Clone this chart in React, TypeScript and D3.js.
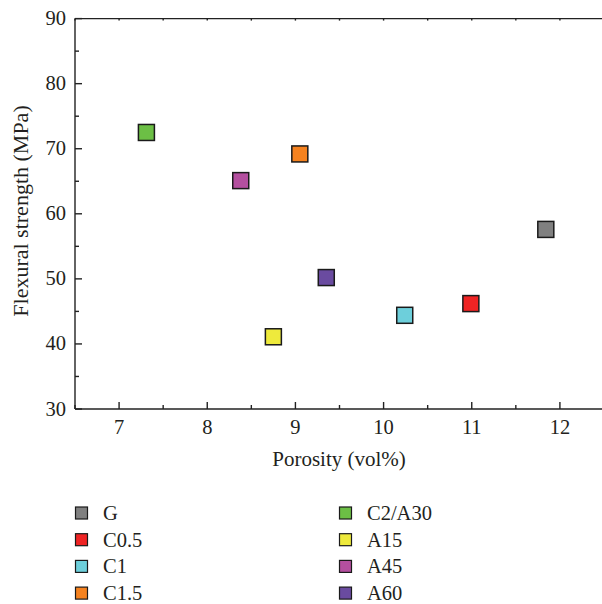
import React, { useEffect, useRef } from "react";
import * as d3 from "d3";

// sample names, porosity (vol%) and flexural strength (MPa)
const samples = ["G", "C0.5", "C1", "C1.5", "C2/A30", "A15", "A45", "A60"];
const porosity = [11.84, 10.99, 10.24, 9.05, 7.31, 8.75, 8.38, 9.35];
const strength = [57.6, 46.2, 44.4, 69.2, 72.5, 41.1, 65.1, 50.2];
const colors = ["#808080", "#ef2424", "#6dcfdb", "#f5821f", "#6cbf45", "#eeea3c", "#b44f9f", "#6a4ba0"];

const xTicks = [7, 8, 9, 10, 11, 12];
const yTicks = [30, 40, 50, 60, 70, 80, 90];

const FONT = "'Liberation Serif', 'DejaVu Serif', serif";

export default function App() {
	const ref = useRef<SVGSVGElement>(null);

	useEffect(() => {
		const svg = d3.select(ref.current);
		svg.selectAll("*").remove();

		const left = 75;
		const right = 604;
		const top = 18.6;
		const bottom = 409;

		const x = d3.scaleLinear().domain([6.5, 12.5]).range([left, right]);
		const y = d3.scaleLinear().domain([30, 90]).range([bottom, top]);

		const axisColor = "#222";
		const textColor = "#231f20";

		// minor ticks
		const xMinor = d3.range(6.5, 12.51, 0.5).filter((v) => !xTicks.includes(v));
		const yMinor = d3.range(35, 90, 10);

		const g = svg.append("g").attr("stroke", axisColor).attr("stroke-width", 1.4);

		// bottom axis
		g.append("line").attr("x1", left).attr("x2", right).attr("y1", bottom).attr("y2", bottom);
		g.selectAll(".xt")
			.data(xTicks)
			.join("line")
			.attr("x1", (d) => x(d))
			.attr("x2", (d) => x(d))
			.attr("y1", bottom)
			.attr("y2", bottom - 7);
		g.selectAll(".xm")
			.data(xMinor)
			.join("line")
			.attr("x1", (d) => x(d))
			.attr("x2", (d) => x(d))
			.attr("y1", bottom)
			.attr("y2", bottom - 4);

		// top axis
		g.append("line").attr("x1", left).attr("x2", right).attr("y1", top).attr("y2", top);
		g.selectAll(".tt")
			.data(d3.range(6.5, 12.51, 0.5))
			.join("line")
			.attr("x1", (d) => x(d))
			.attr("x2", (d) => x(d))
			.attr("y1", top)
			.attr("y2", top + 2);

		// left axis
		g.append("line").attr("x1", left).attr("x2", left).attr("y1", top).attr("y2", bottom);
		g.selectAll(".yt")
			.data(yTicks)
			.join("line")
			.attr("x1", left)
			.attr("x2", left + 7)
			.attr("y1", (d) => y(d))
			.attr("y2", (d) => y(d));
		g.selectAll(".ym")
			.data(yMinor)
			.join("line")
			.attr("x1", left)
			.attr("x2", left + 4)
			.attr("y1", (d) => y(d))
			.attr("y2", (d) => y(d));

		// tick labels
		svg.selectAll(".xl")
			.data(xTicks)
			.join("text")
			.attr("x", (d) => x(d))
			.attr("y", 434)
			.attr("text-anchor", "middle")
			.attr("font-family", FONT)
			.attr("font-size", 20.5)
			.attr("fill", textColor)
			.text((d) => d);

		svg.selectAll(".yl")
			.data(yTicks)
			.join("text")
			.attr("x", 66)
			.attr("y", (d) => y(d) + 6.5)
			.attr("text-anchor", "end")
			.attr("font-family", FONT)
			.attr("font-size", 20.5)
			.attr("fill", textColor)
			.text((d) => d);

		// axis titles
		svg.append("text")
			.attr("x", 339)
			.attr("y", 466)
			.attr("text-anchor", "middle")
			.attr("font-family", FONT)
			.attr("font-size", 21)
			.attr("fill", textColor)
			.text("Porosity (vol%)");

		svg.append("text")
			.attr("transform", `translate(27.5,211) rotate(-90)`)
			.attr("text-anchor", "middle")
			.attr("font-family", FONT)
			.attr("font-size", 22)
			.attr("fill", textColor)
			.text("Flexural strength (MPa)");

		// points
		const s = 16;
		svg.selectAll(".pt")
			.data(samples)
			.join("rect")
			.attr("x", (d, i) => x(porosity[i]) - s / 2)
			.attr("y", (d, i) => y(strength[i]) - s / 2)
			.attr("width", s)
			.attr("height", s)
			.attr("fill", (d, i) => colors[i])
			.attr("stroke", "#1a1a1a")
			.attr("stroke-width", 1.5);

		// legend, two columns of four
		const legend = svg.append("g");
		const rows = legend
			.selectAll("g")
			.data(samples)
			.join("g")
			.attr("transform", (d, i) => `translate(${i < 4 ? 75 : 339},${513 + (i % 4) * 26.7})`);
		rows.append("rect")
			.attr("x", 0.5)
			.attr("y", -6)
			.attr("width", 12)
			.attr("height", 12)
			.attr("fill", (d, i) => colors[i])
			.attr("stroke", "#1a1a1a")
			.attr("stroke-width", 1.2);
		rows.append("text")
			.attr("x", 28)
			.attr("y", 6.8)
			.attr("font-family", FONT)
			.attr("font-size", 20.5)
			.attr("fill", textColor)
			.text((d) => d);
	}, []);

	return (
		<svg
			ref={ref}
			width={602}
			height={604}
			style={{ position: "absolute", left: 0, top: 0, background: "#fff" }}
		/>
	);
}
